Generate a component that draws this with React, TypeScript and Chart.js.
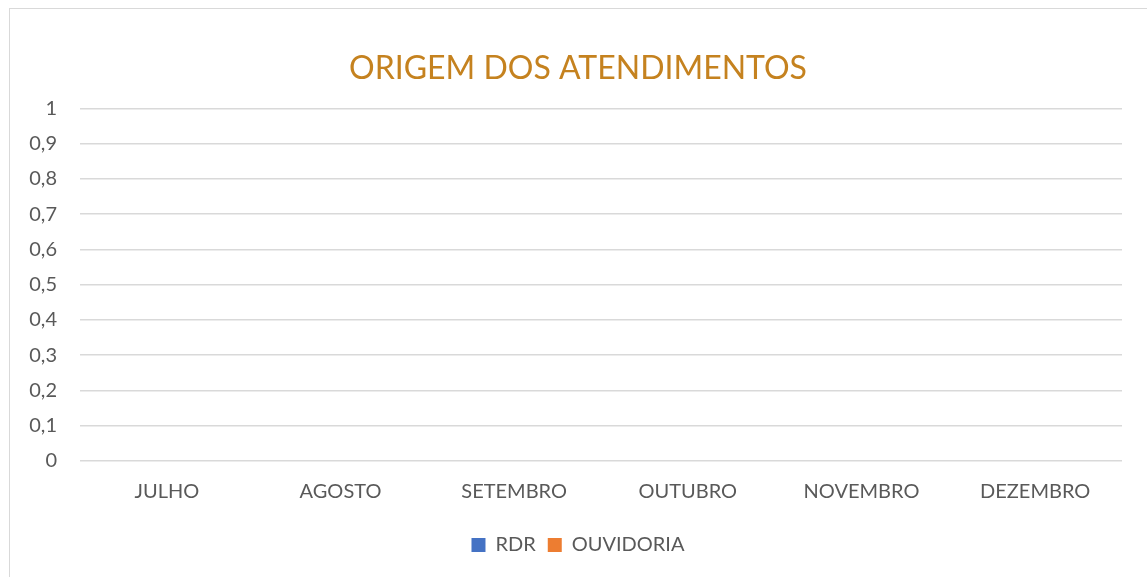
import React, { useEffect, useRef } from "react";
import { Chart, registerables } from "chart.js";

Chart.register(...registerables);

const title = "ORIGEM DOS ATENDIMENTOS";
const months = ["JULHO", "AGOSTO", "SETEMBRO", "OUTUBRO", "NOVEMBRO", "DEZEMBRO"];
const rdrValues = [0, 0, 0, 0, 0, 0];
const ouvidoriaValues = [0, 0, 0, 0, 0, 0];
const yTicks = [0, 0.1, 0.2, 0.3, 0.4, 0.5, 0.6, 0.7, 0.8, 0.9, 1];

const FONT = "Lato, 'Open Sans', sans-serif";
const TEXT = "#595959";

export default function App() {
  const ref = useRef<HTMLCanvasElement | null>(null);

  useEffect(() => {
    if (!ref.current) return;
    const chart = new Chart(ref.current, {
      type: "bar",
      data: {
        labels: months,
        datasets: [
          { label: "RDR", data: rdrValues, backgroundColor: "#4472C4", borderWidth: 0, yAxisID: "y" },
          { label: "OUVIDORIA", data: ouvidoriaValues, backgroundColor: "#ED7D31", borderWidth: 0, yAxisID: "y" },
        ],
      },
      options: {
        animation: false,
        responsive: false,
        layout: { padding: { left: 9, right: 0, top: 0, bottom: 12 } },
        plugins: {
          title: {
            display: true,
            text: title,
            color: "#C5821F",
            font: { family: FONT, size: 32, weight: "normal" },
            padding: { top: 49, bottom: 21 },
          },
          legend: {
            position: "bottom",
            labels: {
              color: TEXT,
              font: { family: FONT, size: 20 },
              boxWidth: 14,
              boxHeight: 14,
              padding: 12,
            },
          },
          tooltip: { enabled: false },
        },
        scales: {
          x: {
            afterFit: (s: any) => {
              s.height = 62;
            },
            grid: { display: false, drawTicks: false },
            border: { display: false },
            ticks: { color: TEXT, font: { family: FONT, size: 20 }, padding: 19, maxRotation: 0 },
          },
          y: {
            position: "left",
            min: 0,
            max: 1,
            afterFit: (s: any) => {
              s.width = 71;
            },
            afterBuildTicks: (s: any) => {
              s.ticks = yTicks.map((v) => ({ value: v }));
            },
            grid: { color: "#d9d9d9", lineWidth: 1.5, drawTicks: false },
            border: { display: false },
            ticks: {
              color: TEXT,
              font: { family: FONT, size: 20 },
              padding: 23,
              callback: (v: any) => String(v).replace(".", ","),
            },
          },
          yRight: {
            position: "right",
            min: 0,
            max: 1,
            afterFit: (s: any) => {
              s.width = 25;
            },
            grid: { display: false, drawTicks: false },
            border: { display: false },
            ticks: { display: false },
          },
        },
      },
    });
    return () => chart.destroy();
  }, []);

  return (
    <div style={{ position: "fixed", left: 0, top: 0, width: 1147, height: 577, overflow: "hidden", background: "#fff" }}>
      <div
        style={{
          position: "absolute",
          left: 9,
          top: 8,
          width: 1200,
          height: 700,
          borderLeft: "1.5px solid #d9d9d9",
          borderTop: "1.5px solid #d9d9d9",
        }}
      />
      <canvas ref={ref} width={1147} height={577} style={{ position: "absolute", left: 0, top: 0 }} />
    </div>
  );
}
